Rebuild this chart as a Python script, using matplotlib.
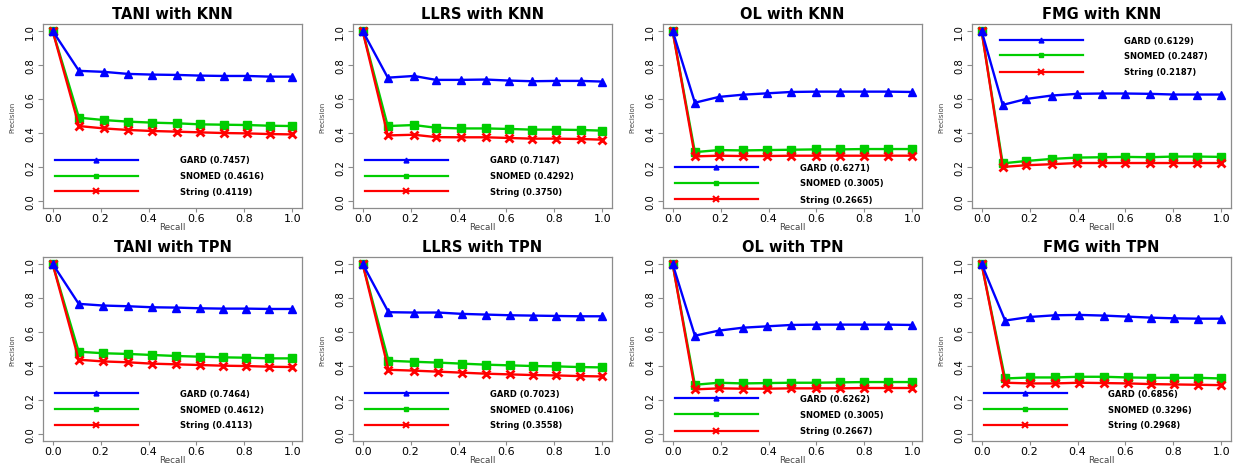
import matplotlib
matplotlib.use("Agg")
import matplotlib.pyplot as plt
from matplotlib.ticker import FormatStrFormatter

# ---------------- data ----------------
titles = ["TANI with KNN", "LLRS with KNN", "OL with KNN", "FMG with KNN",
          "TANI with TPN", "LLRS with TPN", "OL with TPN", "FMG with TPN"]
series_names = ["GARD", "SNOMED", "String"]

recall_tani_knn = [0, 0.110, 0.215, 0.315, 0.415, 0.520, 0.615, 0.713, 0.810, 0.905, 1.0]
gard_tani_knn   = [1.0, 0.765, 0.759, 0.747, 0.743, 0.741, 0.737, 0.735, 0.735, 0.731, 0.731]
snomed_tani_knn = [1.0, 0.490, 0.476, 0.467, 0.461, 0.457, 0.451, 0.449, 0.447, 0.443, 0.441]
string_tani_knn = [1.0, 0.441, 0.427, 0.418, 0.412, 0.408, 0.404, 0.400, 0.398, 0.394, 0.392]
score_tani_knn  = ["0.7457", "0.4616", "0.4119"]

recall_llrs_knn = [0, 0.105, 0.214, 0.306, 0.410, 0.514, 0.610, 0.706, 0.807, 0.909, 1.0]
gard_llrs_knn   = [1.0, 0.725, 0.735, 0.712, 0.712, 0.714, 0.708, 0.704, 0.706, 0.706, 0.702]
snomed_llrs_knn = [1.0, 0.441, 0.447, 0.431, 0.427, 0.427, 0.424, 0.420, 0.420, 0.418, 0.414]
string_llrs_knn = [1.0, 0.386, 0.390, 0.376, 0.375, 0.375, 0.371, 0.367, 0.367, 0.365, 0.361]
score_llrs_knn  = ["0.7147", "0.4292", "0.3750"]

recall_ol_knn = [0, 0.093, 0.193, 0.293, 0.393, 0.494, 0.598, 0.698, 0.799, 0.899, 1.0]
gard_ol_knn   = [1.0, 0.578, 0.612, 0.625, 0.633, 0.641, 0.643, 0.643, 0.643, 0.643, 0.641]
snomed_ol_knn = [1.0, 0.288, 0.300, 0.298, 0.300, 0.302, 0.304, 0.304, 0.306, 0.306, 0.306]
string_ol_knn = [1.0, 0.263, 0.267, 0.265, 0.265, 0.267, 0.267, 0.267, 0.267, 0.267, 0.267]
score_ol_knn  = ["0.6271", "0.3005", "0.2665"]

recall_fmg_knn = [0, 0.088, 0.186, 0.292, 0.398, 0.501, 0.599, 0.703, 0.800, 0.899, 1.0]
gard_fmg_knn   = [1.0, 0.565, 0.600, 0.620, 0.630, 0.632, 0.632, 0.630, 0.626, 0.626, 0.626]
snomed_fmg_knn = [1.0, 0.222, 0.236, 0.248, 0.256, 0.258, 0.260, 0.258, 0.262, 0.262, 0.260]
string_fmg_knn = [1.0, 0.201, 0.211, 0.217, 0.224, 0.224, 0.224, 0.224, 0.224, 0.224, 0.224]
score_fmg_knn  = ["0.6129", "0.2487", "0.2187"]

recall_tani_tpn = [0, 0.109, 0.212, 0.314, 0.414, 0.515, 0.613, 0.711, 0.807, 0.904, 1.0]
gard_tani_tpn   = [1.0, 0.765, 0.755, 0.751, 0.745, 0.743, 0.739, 0.737, 0.737, 0.735, 0.735]
snomed_tani_tpn = [1.0, 0.484, 0.475, 0.471, 0.465, 0.459, 0.455, 0.451, 0.449, 0.445, 0.445]
string_tani_tpn = [1.0, 0.437, 0.427, 0.422, 0.414, 0.410, 0.406, 0.402, 0.400, 0.396, 0.394]
score_tani_tpn  = ["0.7464", "0.4612", "0.4113"]

recall_llrs_tpn = [0, 0.108, 0.214, 0.316, 0.416, 0.516, 0.614, 0.711, 0.807, 0.905, 1.0]
gard_llrs_tpn   = [1.0, 0.716, 0.714, 0.714, 0.706, 0.702, 0.698, 0.696, 0.694, 0.692, 0.692]
snomed_llrs_tpn = [1.0, 0.431, 0.425, 0.420, 0.414, 0.408, 0.404, 0.400, 0.398, 0.394, 0.392]
string_llrs_tpn = [1.0, 0.378, 0.373, 0.367, 0.361, 0.355, 0.351, 0.347, 0.345, 0.341, 0.339]
score_llrs_tpn  = ["0.7023", "0.4106", "0.3558"]

recall_ol_tpn = [0, 0.093, 0.193, 0.293, 0.393, 0.494, 0.598, 0.698, 0.799, 0.899, 1.0]
gard_ol_tpn   = [1.0, 0.578, 0.608, 0.625, 0.633, 0.641, 0.643, 0.643, 0.643, 0.643, 0.641]
snomed_ol_tpn = [1.0, 0.290, 0.302, 0.298, 0.300, 0.302, 0.302, 0.304, 0.306, 0.306, 0.306]
string_ol_tpn = [1.0, 0.263, 0.269, 0.267, 0.267, 0.269, 0.269, 0.269, 0.271, 0.271, 0.271]
score_ol_tpn  = ["0.6262", "0.3005", "0.2667"]

recall_fmg_tpn = [0, 0.098, 0.201, 0.306, 0.408, 0.512, 0.610, 0.707, 0.803, 0.902, 1.0]
gard_fmg_tpn   = [1.0, 0.667, 0.688, 0.698, 0.700, 0.696, 0.690, 0.684, 0.680, 0.678, 0.678]
snomed_fmg_tpn = [1.0, 0.327, 0.333, 0.333, 0.337, 0.337, 0.333, 0.331, 0.331, 0.331, 0.327]
string_fmg_tpn = [1.0, 0.302, 0.298, 0.298, 0.302, 0.300, 0.298, 0.294, 0.292, 0.290, 0.288]
score_fmg_tpn  = ["0.6856", "0.3296", "0.2968"]

ticks = [0.0, 0.2, 0.4, 0.6, 0.8, 1.0]

panel_data = [
    (recall_tani_knn, gard_tani_knn, snomed_tani_knn, string_tani_knn, score_tani_knn),
    (recall_llrs_knn, gard_llrs_knn, snomed_llrs_knn, string_llrs_knn, score_llrs_knn),
    (recall_ol_knn, gard_ol_knn, snomed_ol_knn, string_ol_knn, score_ol_knn),
    (recall_fmg_knn, gard_fmg_knn, snomed_fmg_knn, string_fmg_knn, score_fmg_knn),
    (recall_tani_tpn, gard_tani_tpn, snomed_tani_tpn, string_tani_tpn, score_tani_tpn),
    (recall_llrs_tpn, gard_llrs_tpn, snomed_llrs_tpn, string_llrs_tpn, score_llrs_tpn),
    (recall_ol_tpn, gard_ol_tpn, snomed_ol_tpn, string_ol_tpn, score_ol_tpn),
    (recall_fmg_tpn, gard_fmg_tpn, snomed_fmg_tpn, string_fmg_tpn, score_fmg_tpn),
]

# ---------------- layout / style ----------------
W, H = 1233, 464
col_left_px = [43, 353, 663, 972]
row_top_px = [25, 258]
ax_w_px, ax_h_px = 259, 184

# legend layout per panel: (row y's, line x0, line x1, marker x, text x)
leg_default = ([0.243, 0.149, 0.057], 0.01, 0.357, 0.183, 0.53)
leg_layout = [
    leg_default,
    leg_default,
    ([0.200, 0.108, 0.012], 0.01, 0.357, 0.183, 0.53),
    ([0.944, 0.856, 0.761], 0.078, 0.424, 0.247, 0.594),
    ([0.241, 0.147, 0.055], 0.01, 0.357, 0.183, 0.53),
    ([0.241, 0.147, 0.055], 0.01, 0.357, 0.183, 0.53),
    ([0.210, 0.116, 0.020], 0.01, 0.357, 0.183, 0.53),
    ([0.239, 0.147, 0.055], 0.011, 0.358, 0.182, 0.528),
]

colors = {"GARD": "#0000FF", "SNOMED": "#00CD00", "String": "#FF0000"}
markers = {"GARD": "^", "SNOMED": "s", "String": "x"}
msize = {"GARD": 6, "SNOMED": 5.5, "String": 6}
leg_msize = {"GARD": 3.5, "SNOMED": 3.5, "String": 4.5}
box_color = "#8c8c8c"

fig = plt.figure(figsize=(W / 100, H / 100), dpi=100)

for i, (title, pdata, leg) in enumerate(zip(titles, panel_data, leg_layout)):
    r, c = divmod(i, 4)
    left = col_left_px[c] / W
    bottom = 1 - (row_top_px[r] + ax_h_px) / H
    ax = fig.add_axes([left, bottom, ax_w_px / W, ax_h_px / H])
    recall, gard, snomed, string, scores = pdata
    vals = {"GARD": gard, "SNOMED": snomed, "String": string}

    for name in ["SNOMED", "String", "GARD"]:
        ax.plot(recall, vals[name], color=colors[name], lw=1.7,
                marker=markers[name], ms=msize[name],
                mew=2 if name == "String" else 1, zorder=3)

    ys, lx0, lx1, mx, tx = leg
    for name, ly, sc in zip(series_names, ys, scores):
        ax.plot([lx0, lx1], [ly, ly], color=colors[name], lw=1.6)
        ax.plot([mx], [ly], color=colors[name], marker=markers[name],
                ms=leg_msize[name], mew=1.5 if name == "String" else 1)
        ax.text(tx, ly, f"{name} ({sc})", fontsize=6, fontweight="bold",
                va="center", ha="left", family="DejaVu Sans")

    ax.set_xlim(-0.04, 1.04)
    ax.set_ylim(-0.04, 1.04)
    ax.set_xticks(ticks)
    ax.set_yticks(ticks)
    ax.xaxis.set_major_formatter(FormatStrFormatter("%.1f"))
    ax.yaxis.set_major_formatter(FormatStrFormatter("%.1f"))
    ax.tick_params(axis="x", labelsize=8, length=3, pad=0.5, color=box_color, width=0.8)
    ax.tick_params(axis="y", labelsize=7.2, length=3.5, pad=2.2, color=box_color, width=0.8)
    plt.setp(ax.get_yticklabels(), rotation=90, va="center")
    for sp in ax.spines.values():
        sp.set_color(box_color)
        sp.set_linewidth(0.9)

    ax.set_title(title, fontsize=10.5, fontweight="bold", pad=4)
    ax.set_ylabel("Precision", fontsize=5, color="#444444")
    ax.yaxis.set_label_coords(-0.105, 0.5)
    ax.set_xlabel("Recall", fontsize=6.3, color="#444444")
    ax.xaxis.set_label_coords(0.5, -0.075)

fig.savefig("out.png", dpi=100)
